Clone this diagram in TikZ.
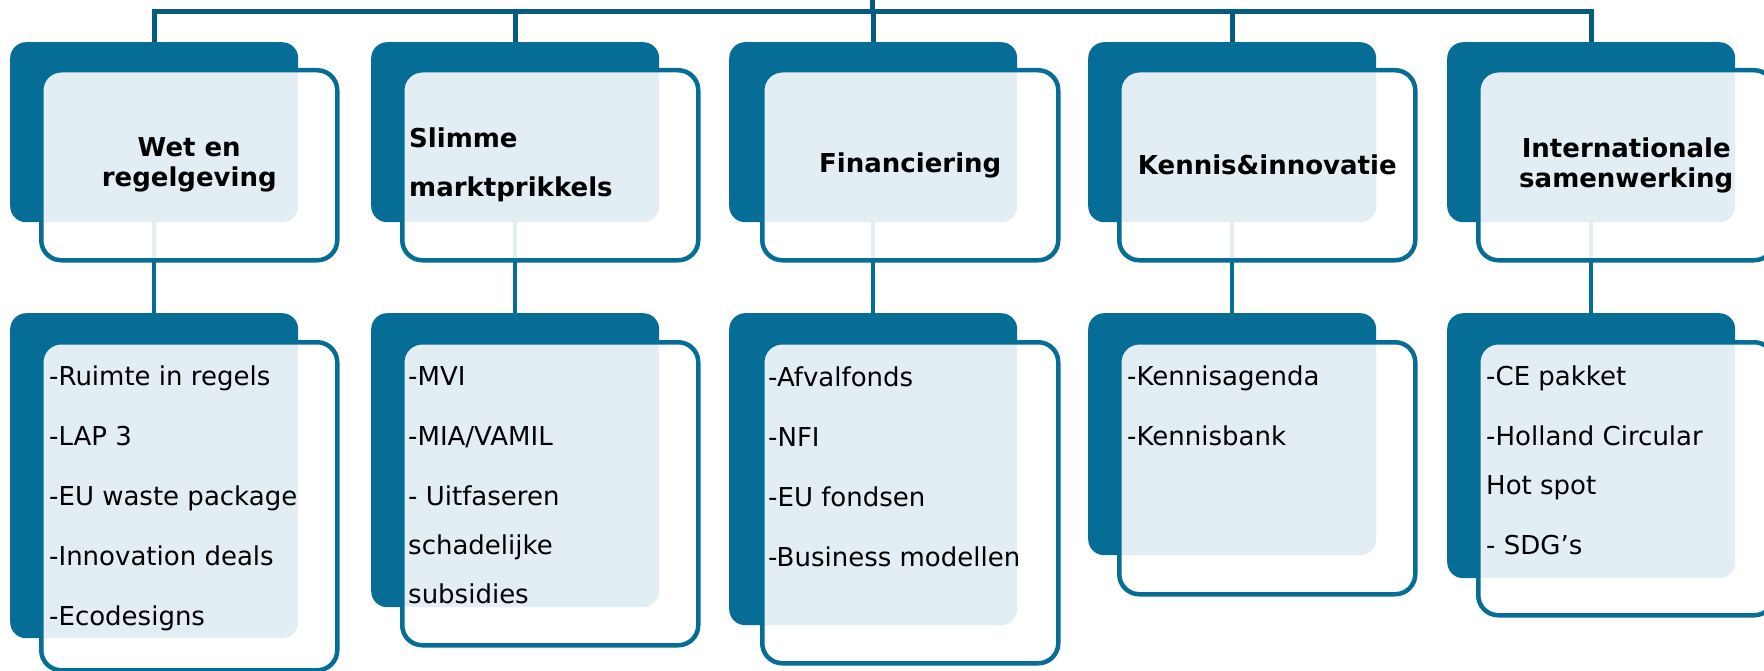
\documentclass[tikz,border=0pt]{standalone}
\usepackage{fontspec}
\setmainfont{DejaVu Sans}
\usepackage{tikz}
\usetikzlibrary{positioning}
\definecolor{boxblue}{HTML}{066E96}
\definecolor{treeblue}{HTML}{045C7E}
\tikzset{
backbox/.style={
  rectangle,
  rounded corners=16pt,
  fill=boxblue,
  minimum width=288pt,
  inner sep=0pt,
  anchor=north west
},
frontbox/.style={
  rectangle,
  rounded corners=20pt,
  draw=boxblue,
  line width=4.5pt,
  fill=white,
  fill opacity=0.885,
  minimum width=296pt,
  inner sep=0pt,
  anchor=north west
},
head/.style={font=\fontsize{26}{30}\selectfont\bfseries, align=center, inner sep=0pt},
items/.style={font=\fontsize{26}{49}\selectfont, align=left, inner sep=0pt},
tree/.style={draw=treeblue, line width=5pt},
link/.style={draw=boxblue, line width=4pt},
}

\begin{document}
\begin{tikzpicture}[x=1pt,y=-1pt]
\useasboundingbox (0,0) rectangle (1764,671);
% the boxes behind
\foreach \i/\x/\hb in {1/10/325,2/371/294,3/729/312,4/1088/242,5/1447/265}
{
  \node[backbox,minimum height=180pt] (h\i) at (\x,42) {};
  \node[backbox,minimum height=\hb pt] (l\i) at (\x,313) {};
}
% the tree on top
\coordinate (root) at (872,0);
\coordinate (bar) at (872,12);
\draw[tree] (h1.north) -- (h1.north |- bar) -- (h5.north |- bar) -- (h5.north);
\draw[tree] (root) -- (bar);
\foreach \i in {2,3,4}
{
  \draw[tree] (bar -| h\i.north) -- (h\i.north);
}
% the links down
\foreach \i in {1,...,5}
{
  \draw[link] (h\i.south) -- (l\i.north);
}
% the boxes in front
\foreach \i/\x/\hf in {1/39/328,2/400/303,3/760/321,4/1117/252,5/1476/273}
{
  \node[frontbox,minimum height=190pt] (fh\i) at (\x,68) {};
  \node[frontbox,minimum height=\hf pt] (fl\i) at (\x,340) {};
}
% the headings
\node[head] (wet) at (fh1.center) {Wet en\\regelgeving};
\node[head,align=left,font=\fontsize{26}{49}\selectfont\bfseries,anchor=west,right=9pt of fh2.west] (slim) {Slimme\\marktprikkels};
\node[head] (fin) at (fh3.center) {Financiering};
\node[head] (ken) at (fh4.center) {Kennis\&innovatie};
\node[head] (int) at (fh5.center) {Internationale\\samenwerking};
% the lists
\node[items,below right=26pt and 10pt of fl1.north west] (wetlist)
  {-Ruimte in regels\\[11pt]-LAP 3\\[11pt]-EU waste package\\[11pt]-Innovation deals\\[11pt]-Ecodesigns};
\node[items,below right=26pt and 8pt of fl2.north west] (slimlist)
  {-MVI\\[11pt]-MIA/VAMIL\\[11pt]- Uitfaseren\\schadelijke\\subsidies};
\node[items,below right=27pt and 8pt of fl3.north west] (finlist)
  {-Afvalfonds\\[11pt]-NFI\\[11pt]-EU fondsen\\[11pt]-Business modellen};
\node[items,below right=26pt and 10pt of fl4.north west] (kenlist)
  {-Kennisagenda\\[11pt]-Kennisbank};
\node[items,below right=26pt and 10pt of fl5.north west] (intlist)
  {-CE pakket\\[11pt]-Holland Circular\\Hot spot\\[11pt]- SDG’s};
\end{tikzpicture}
\end{document}
